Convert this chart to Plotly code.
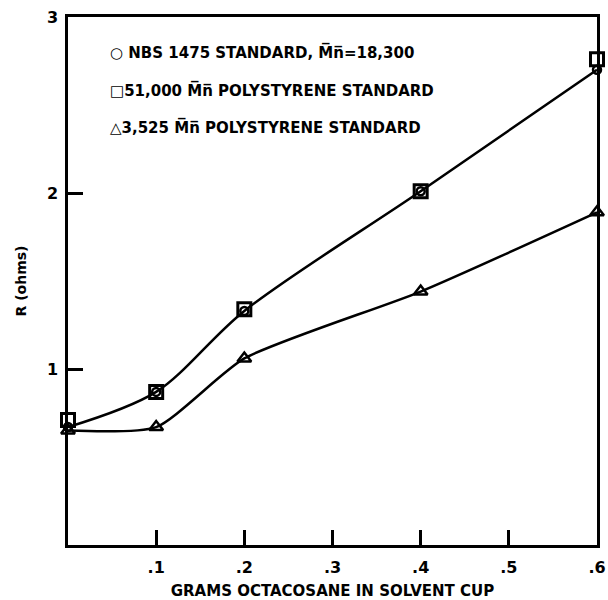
import plotly.graph_objects as go

x_vals = [0.0, 0.1, 0.2, 0.4, 0.6]
nbs_1475 = [0.67, 0.87, 1.33, 2.01, 2.70]
ps_51000 = [0.71, 0.87, 1.34, 2.01, 2.76]
ps_3525 = [0.65, 0.67, 1.06, 1.44, 1.89]

x_tickvals = [0.1, 0.2, 0.3, 0.4, 0.5, 0.6]
x_ticktext = [".1", ".2", ".3", ".4", ".5", ".6"]
y_tickvals = [1, 2, 3]
y_ticktext = ["1", "2", "3"]

FONT = "DejaVu Sans"
fig = go.Figure()
fig.add_trace(go.Scatter(x=x_vals, y=nbs_1475, mode="lines+markers", line_shape="spline",
                         line=dict(color="black", width=2.5, smoothing=0.9),
                         marker=dict(symbol="circle-open", size=8, color="black", line=dict(width=2.5)),
                         cliponaxis=False, showlegend=False))
fig.add_trace(go.Scatter(x=x_vals, y=ps_51000, mode="markers",
                         marker=dict(symbol="square-open", size=13, color="black", line=dict(width=3)),
                         cliponaxis=False, showlegend=False))
fig.add_trace(go.Scatter(x=x_vals, y=ps_3525, mode="lines+markers", line_shape="spline",
                         line=dict(color="black", width=2.5, smoothing=0.6),
                         marker=dict(symbol="triangle-up-open", size=12, color="black", line=dict(width=2.5)),
                         cliponaxis=False, showlegend=False))

ov = "M\u0305n\u0305"
legend_rows = [
    ("\u25CB NBS 1475 STANDARD, " + ov + "=18,300", 52),
    ("\u25A1" + "51,000 " + ov + " POLYSTYRENE STANDARD", 90),
    ("\u25B3" + "3,525 " + ov + " POLYSTYRENE STANDARD", 127),
]
annotations = []
for txt, ypix in legend_rows:
    annotations.append(dict(text="<b>" + txt + "</b>", xref="paper", yref="paper",
                            x=(108 - 68) / 529, y=(545 - ypix) / 528, xanchor="left", yanchor="middle",
                            showarrow=False, font=dict(family=FONT, size=15, color="black")))

fig.update_layout(
    width=608, height=600,
    margin=dict(l=68, r=11, t=17, b=55),
    paper_bgcolor="white", plot_bgcolor="white",
    font=dict(family=FONT, size=14, color="black"),
    annotations=annotations,
    xaxis=dict(range=[0, 0.6], tickvals=x_tickvals, ticktext=x_ticktext, automargin=False,
               ticks="inside", ticklen=15, tickwidth=2.5, tickcolor="black",
               showline=True, linewidth=2.5, linecolor="black", mirror=True,
               showgrid=False, zeroline=False, ticklabelstandoff=6,
               tickfont=dict(family=FONT, size=16, color="black", weight="bold"),
               title=dict(text="<b>GRAMS OCTACOSANE IN SOLVENT CUP</b>",
                          font=dict(family=FONT, size=15, color="black"), standoff=14)),
    yaxis=dict(range=[0, 3], tickvals=y_tickvals, ticktext=y_ticktext, automargin=False,
               ticks="inside", ticklen=15, tickwidth=2.5, tickcolor="black",
               showline=True, linewidth=2.5, linecolor="black", mirror=True,
               showgrid=False, zeroline=False, ticklabelstandoff=4,
               tickfont=dict(family=FONT, size=16, color="black", weight="bold"),
               title=dict(text="<b>R (ohms)</b>", font=dict(family=FONT, size=14, color="black"), standoff=18)),
)
fig.write_html("out.html", config={"displayModeBar": False},
               post_script="document.body.style.margin='0';document.body.style.padding='0';")
